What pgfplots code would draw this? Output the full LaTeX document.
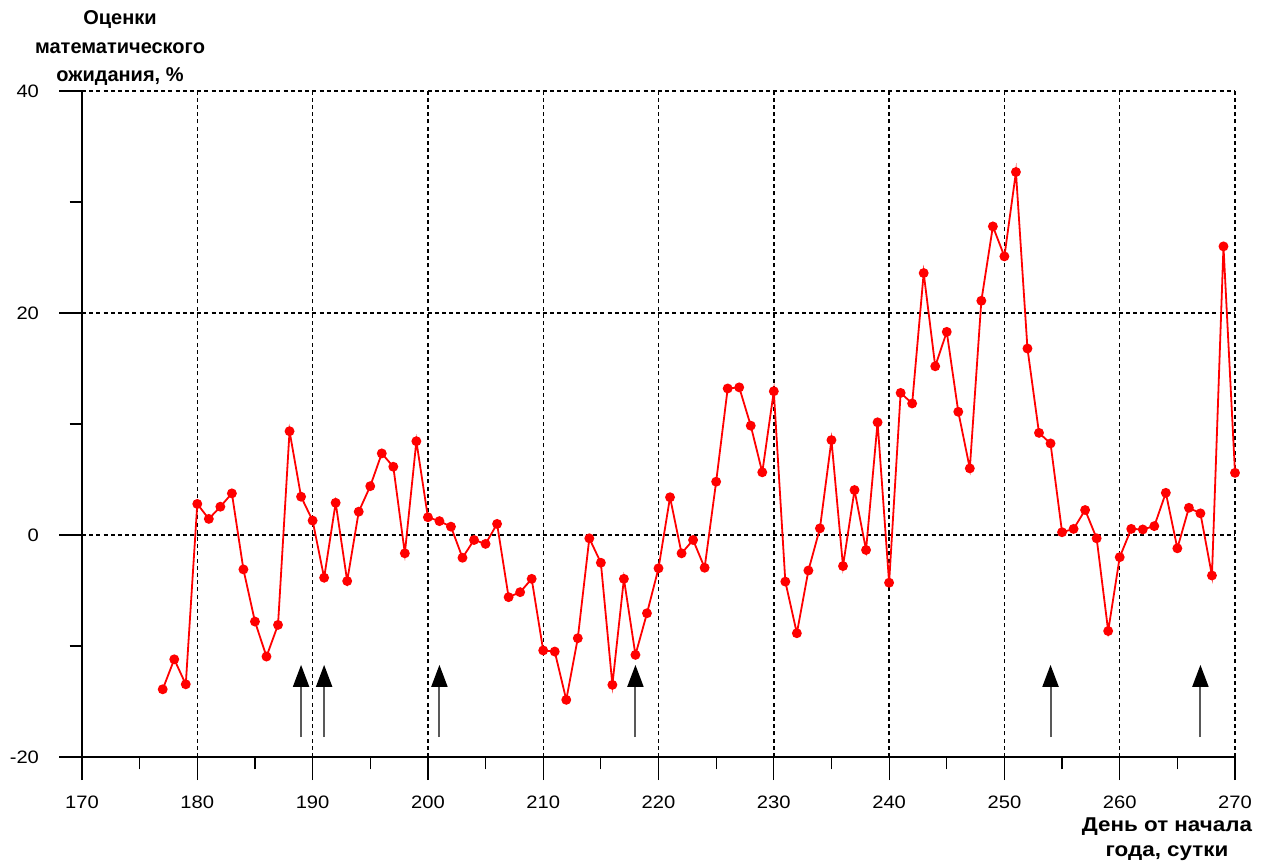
\documentclass[border=0pt]{standalone}
\usepackage{pgfplots}
\pgfplotsset{compat=1.18}
\usepackage{fontspec}
\setmainfont{Liberation Sans}
\newfontfamily\widefont[FakeStretch=1.12]{Liberation Sans}
\usetikzlibrary{arrows.meta}
\pgfplotstableread{
x y
177 -13.9
178 -11.2
179 -13.45
180 2.8
181 1.45
182 2.55
183 3.75
184 -3.1
185 -7.8
186 -10.95
187 -8.1
188 9.35
189 3.45
190 1.3
191 -3.85
192 2.9
193 -4.15
194 2.1
195 4.4
196 7.35
197 6.15
198 -1.65
199 8.45
200 1.6
201 1.25
202 0.75
203 -2.05
204 -0.45
205 -0.8
206 1.0
207 -5.6
208 -5.15
209 -3.95
210 -10.4
211 -10.5
212 -14.85
213 -9.3
214 -0.3
215 -2.5
216 -13.5
217 -3.95
218 -10.8
219 -7.05
220 -3.0
221 3.4
222 -1.65
223 -0.45
224 -2.95
225 4.8
226 13.2
227 13.3
228 9.85
229 5.65
230 12.95
231 -4.2
232 -8.85
233 -3.2
234 0.6
235 8.55
236 -2.8
237 4.05
238 -1.35
239 10.15
240 -4.3
241 12.8
242 11.85
243 23.6
244 15.2
245 18.3
246 11.1
247 6.0
248 21.1
249 27.8
250 25.1
251 32.7
252 16.8
253 9.2
254 8.25
255 0.25
256 0.55
257 2.25
258 -0.3
259 -8.65
260 -2.0
261 0.55
262 0.5
263 0.8
264 3.8
265 -1.2
266 2.45
267 1.95
268 -3.65
269 26.0
270 5.6
}\datatable
\pgfplotstableread{
x y u v
189 -18.2 0 6.5
191 -18.2 0 6.5
201 -18.2 0 6.5
218 -18.2 0 6.5
254 -18.2 0 6.5
267 -18.2 0 6.5
}\arrowtable
\begin{document}
\begin{tikzpicture}
\path[use as bounding box] (-41pt,-54.5pt) rectangle (593pt,378.5pt);
\begin{axis}[
  scale only axis,
  width=576.5pt, height=333pt,
  xmin=170, xmax=270, ymin=-20, ymax=40,
  axis lines=left,
  axis line style={-, line width=0.8pt},
  xtick={170,180,...,270},
  minor xtick={175,185,...,265},
  ytick={-20,0,20,40},
  minor ytick={-10,10,30},
  tick align=outside,
  major tick length=11.5pt,
  minor tick length=6.2pt,
  tick style={black, line width=0.6pt},
  grid=major,
  major grid style={black, line width=0.7pt, dash pattern=on 2pt off 1.6pt},
  tick label style={font=\widefont\fontsize{9}{10}\selectfont},
  /pgf/number format/assume math mode=true,
  xticklabel style={yshift=-4.5pt},
  yticklabel style={xshift=-6.5pt},
  clip=false,
]
\addplot[red, line width=0.9pt, mark=*, mark size=2pt, mark options={solid, fill=red}] table[x=x,y=y] {\datatable};
\addplot[black!65, line width=1pt, -{Triangle[width=8pt,length=11pt,color=black,fill=black]}, quiver={u=\thisrow{u}, v=\thisrow{v}}] table[x=x,y=y] {\arrowtable};
\node[anchor=south, align=center, inner sep=0pt, font=\fontsize{10}{14.25}\selectfont\bfseries] at ([xshift=19pt,yshift=2.5pt]rel axis cs:0,1) {Оценки\\математического\\ожидания, \%};
\node[anchor=north, align=center, inner sep=0pt, font=\widefont\fontsize{10}{12.75}\selectfont\bfseries] at ([xshift=-34pt,yshift=-30pt]rel axis cs:1,0) {День от начала\\года, сутки};
\end{axis}
\end{tikzpicture}
\end{document}
